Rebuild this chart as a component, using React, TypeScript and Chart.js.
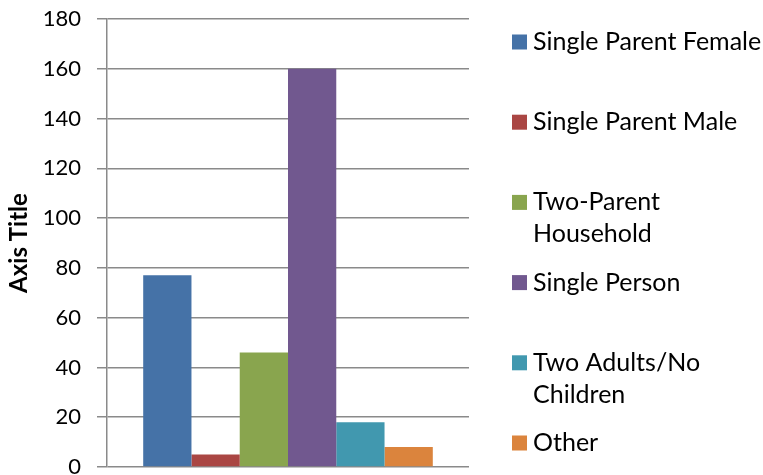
import React, { useEffect, useRef } from "react";
import { Chart, registerables } from "chart.js";

Chart.register(...registerables);

// Household types, one bar each
const seriesNames = [
  "Single Parent Female",
  "Single Parent Male",
  "Two-Parent Household",
  "Single Person",
  "Two Adults/No Children",
  "Other",
];
// Legend text as it wraps in the side legend
const legendLines = [
  ["Single Parent Female"],
  ["Single Parent Male"],
  ["Two-Parent", "Household"],
  ["Single Person"],
  ["Two Adults/No", "Children"],
  ["Other"],
];
const seriesValues = [77, 5, 46, 160, 18, 8];
const seriesColors = ["#4572A7", "#AA4643", "#89A54E", "#71588F", "#4198AF", "#DB843D"];
const categories = [""];
const yTicks = [0, 20, 40, 60, 80, 100, 120, 140, 160, 180];

const FONT = "Lato, 'Open Sans', sans-serif";
const GRID = "#8a8a8a";

// Right-hand legend: evenly spaced slots, multi-line labels
const sideLegend = {
  id: "sideLegend",
  afterDraw(chart: any) {
    const ctx = chart.ctx;
    const area = chart.chartArea;
    const x0 = area.right + 43;
    const firstY = 42;
    const step = 80.2;
    const lineH = 32;
    const box = 15;
    ctx.save();
    ctx.font = `25px ${FONT}`;
    ctx.textBaseline = "middle";
    ctx.textAlign = "left";
    chart.data.datasets.forEach((ds: any, i: number) => {
      const y = firstY + i * step;
      ctx.fillStyle = ds.backgroundColor;
      ctx.fillRect(x0, y - box / 2, box, box);
      ctx.fillStyle = "#000000";
      legendLines[i].forEach((line, k) => {
        ctx.fillText(line, x0 + 21, y + k * lineH);
      });
    });
    ctx.restore();
  },
};

export default function App() {
  const canvasRef = useRef<HTMLCanvasElement>(null);

  useEffect(() => {
    document.body.style.margin = "0";
    const canvas = canvasRef.current;
    if (!canvas) return;
    const chart = new Chart(canvas, {
      type: "bar",
      data: {
        labels: categories,
        datasets: seriesNames.map((name, i) => ({
          label: name,
          data: [seriesValues[i]],
          backgroundColor: seriesColors[i],
          borderWidth: 0,
          categoryPercentage: 0.8,
          barPercentage: 1.0,
        })),
      },
      options: {
        animation: false,
        responsive: false,
        maintainAspectRatio: false,
        layout: { padding: { left: 0, top: 19, right: 294, bottom: 8 } },
        plugins: {
          legend: { display: false },
          tooltip: { enabled: false },
        },
        scales: {
          x: { display: false },
          y: {
            min: 0,
            max: 180,
            afterBuildTicks: (scale: any) => {
              scale.ticks = yTicks.map((v) => ({ value: v }));
            },
            afterFit: (scale: any) => {
              scale.width = 107;
              scale.paddingTop = 0;
              scale.paddingBottom = 0;
            },
            grid: {
              color: GRID,
              lineWidth: 1.5,
              tickLength: 10,
              tickColor: GRID,
              drawTicks: true,
            },
            border: { display: true, color: GRID, width: 1.5 },
            ticks: {
              color: "#000000",
              padding: 16,
              font: { family: FONT, size: 22 },
            },
            title: {
              display: true,
              text: "Axis Title",
              color: "#000000",
              font: { family: FONT, size: 24, weight: "bold" },
              padding: { top: 5, bottom: 0 },
            },
          },
        },
      },
      plugins: [sideLegend],
    });
    return () => chart.destroy();
  }, []);

  return (
    <div style={{ width: 763, height: 475 }}>
      <canvas ref={canvasRef} width={763} height={475} style={{ display: "block" }} />
    </div>
  );
}
